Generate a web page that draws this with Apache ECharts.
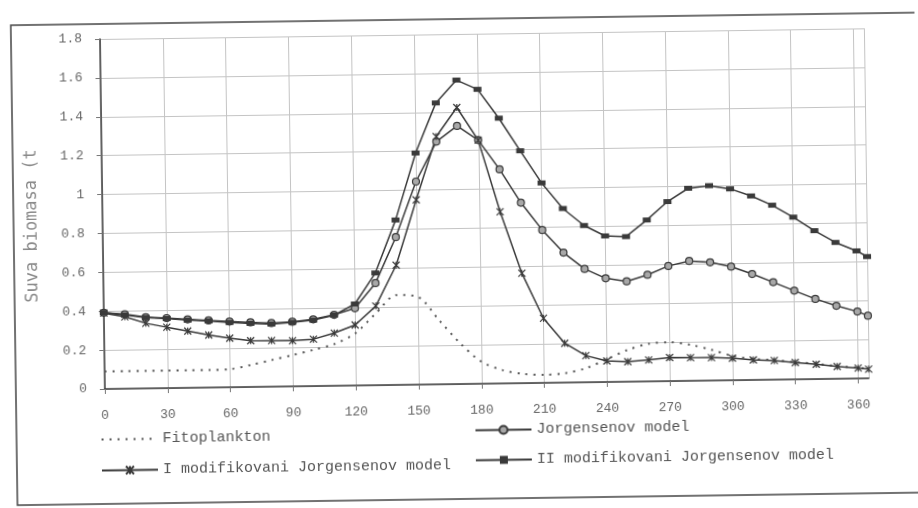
<!DOCTYPE html>
<html>
<head>
<meta charset="utf-8">
<script src="https://cdn.jsdelivr.net/npm/echarts@6/dist/echarts.min.js"></script>
<style>
  html, body { margin: 0; padding: 0; background: #fff; overflow: hidden; }
  #biomasa { width: 918px; height: 508px; transform: rotate(-0.8deg); transform-origin: 459px 254px; }
</style>
</head>
<body>
<div id="biomasa"></div>
<script>
// dani u godini
const days = [0, 10, 20, 30, 40, 50, 60, 70, 80, 90, 100, 110, 120, 130, 140, 150, 160, 170, 180,
  190, 200, 210, 220, 230, 240, 250, 260, 270, 280, 290, 300, 310, 320, 330, 340, 350, 360, 365];

const fitoplankton = [0.09, 0.09, 0.09, 0.09, 0.09, 0.09, 0.093, 0.113, 0.137, 0.161, 0.186, 0.215,
  0.268, 0.37, 0.462, 0.452, 0.331, 0.21, 0.114, 0.069, 0.047, 0.041, 0.048, 0.072,
  0.117, 0.163, 0.193, 0.2, 0.185, 0.158, 0.125, 0.108, 0.1, 0.088, 0.078, 0.065, 0.055, 0.048];

const jorgensen = [0.392, 0.383, 0.366, 0.36, 0.352, 0.345, 0.338, 0.332, 0.327, 0.332, 0.343, 0.365,
  0.397, 0.525, 0.76, 1.044, 1.248, 1.327, 1.253, 1.101, 0.928, 0.786, 0.668, 0.583,
  0.533, 0.516, 0.548, 0.592, 0.616, 0.608, 0.584, 0.545, 0.501, 0.456, 0.412, 0.375, 0.344, 0.322];

const modI = [0.39, 0.37, 0.335, 0.313, 0.292, 0.27, 0.252, 0.238, 0.237, 0.235, 0.241, 0.271,
  0.311, 0.407, 0.616, 0.95, 1.274, 1.422, 1.253, 0.883, 0.565, 0.332, 0.202, 0.137,
  0.108, 0.103, 0.11, 0.121, 0.119, 0.118, 0.113, 0.103, 0.098, 0.086, 0.076, 0.063, 0.053, 0.047];

const modII = [0.392, 0.379, 0.364, 0.358, 0.348, 0.342, 0.333, 0.327, 0.322, 0.329, 0.339, 0.363,
  0.419, 0.577, 0.848, 1.191, 1.447, 1.563, 1.514, 1.364, 1.195, 1.028, 0.895, 0.806,
  0.751, 0.746, 0.83, 0.923, 0.99, 1.002, 0.984, 0.946, 0.897, 0.834, 0.763, 0.701, 0.656, 0.626];

const names = ["Fitoplankton", "Jorgensenov model", "I modifikovani Jorgensenov model", "II modifikovani Jorgensenov model"];

const pairs = (vals) => days.map((d, i) => [d, vals[i]]);

const ink = "#3a3a3a";
const mono = "Liberation Mono";

let chart = echarts.init(document.getElementById("biomasa"));
chart.setOption({
  backgroundColor: "#fff",
  animation: false,
  graphic: [
    {
      type: "rect",
      shape: { x: 14, y: 19, width: 1000, height: 480 },
      style: { fill: "none", stroke: "#444", lineWidth: 1.5 },
    },
  ],
  legend: [
    {
      data: [{ name: names[0], itemStyle: { opacity: 0 } }, names[2]],
      orient: "vertical",
      left: 93,
      top: 422,
      itemWidth: 56,
      itemHeight: 10,
      itemGap: 16,
      textStyle: { fontFamily: mono, fontSize: 15, color: "#555" },
    },
    {
      data: [names[1], names[3]],
      orient: "vertical",
      left: 467,
      top: 418,
      itemWidth: 56,
      itemHeight: 10,
      itemGap: 15,
      textStyle: { fontFamily: mono, fontSize: 15, color: "#555" },
    },
  ],
  grid: { left: 103, right: 51, top: 34, bottom: 124 },
  xAxis: {
    type: "value",
    min: 0,
    max: 365,
    interval: 30,
    axisLine: { lineStyle: { color: ink, width: 1.5 } },
    axisTick: { show: true, length: 5, lineStyle: { color: "#777" } },
    axisLabel: { showMaxLabel: false, margin: 20, fontFamily: mono, fontSize: 13, color: "#666" },
    splitLine: { show: true, lineStyle: { color: "#c4c4c4", width: 1 } },
  },
  yAxis: {
    type: "value",
    min: 0,
    max: 1.8,
    interval: 0.2,
    name: "Suva biomasa (t",
    nameLocation: "middle",
    nameGap: 62,
    nameTextStyle: { fontFamily: "DejaVu Sans Mono", fontSize: 17, color: "#8a8a8a", padding: [0, 22, 0, 0] },
    axisLine: { show: true, lineStyle: { color: ink, width: 1.5 } },
    axisTick: { show: true, length: 5, lineStyle: { color: "#777" } },
    axisLabel: { margin: 18, fontFamily: mono, fontSize: 13, color: "#666" },
    splitLine: { show: true, lineStyle: { color: "#c4c4c4", width: 1 } },
  },
  series: [
    {
      name: names[0],
      type: "line",
      data: pairs(fitoplankton),
      showSymbol: false,
      symbol: "none",
      smooth: 0.3,
      lineStyle: { color: "#555", width: 2, type: [2, 6] },
      itemStyle: { color: "#555" },
    },
    {
      name: names[1],
      type: "line",
      data: pairs(jorgensen),
      symbol: "circle",
      symbolSize: 7,
      lineStyle: { color: ink, width: 1.5 },
      itemStyle: { color: "#a8a8a8", borderColor: ink, borderWidth: 1.2 },
    },
    {
      name: names[2],
      type: "line",
      data: pairs(modI),
      symbol: "path://M0,0L10,10M10,0L0,10M5,0L5,10",
      symbolSize: 7,
      lineStyle: { color: ink, width: 1.5 },
      itemStyle: { color: ink, borderColor: ink, borderWidth: 1.2 },
    },
    {
      name: names[3],
      type: "line",
      data: pairs(modII),
      symbol: "rect",
      symbolSize: [8, 5],
      lineStyle: { color: ink, width: 1.5 },
      itemStyle: { color: ink },
    },
  ],
});
</script>
</body>
</html>
